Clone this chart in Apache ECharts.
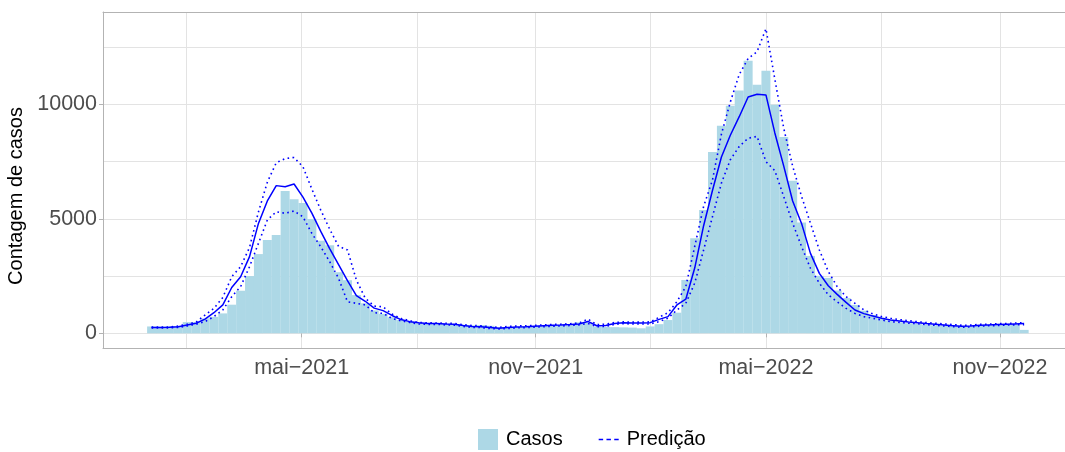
<!DOCTYPE html>
<html>
<head>
<meta charset="utf-8">
<script src="https://cdn.jsdelivr.net/npm/echarts@6/dist/echarts.min.js"></script>
<style>
  html, body { margin: 0; padding: 0; background: #fff; }
  #chart { width: 1065px; height: 452px; }
</style>
</head>
<body>
<div id="chart"></div>
<script>
// semanas epidemiológicas (domingo)
const semanas = [
  '2021-01-03','2021-01-10','2021-01-17','2021-01-24','2021-01-31',
  '2021-02-07','2021-02-14','2021-02-21','2021-02-28',
  '2021-03-07','2021-03-14','2021-03-21','2021-03-28',
  '2021-04-04','2021-04-11','2021-04-18','2021-04-25',
  '2021-05-02','2021-05-09','2021-05-16','2021-05-23','2021-05-30',
  '2021-06-06','2021-06-13','2021-06-20','2021-06-27',
  '2021-07-04','2021-07-11','2021-07-18','2021-07-25',
  '2021-08-01','2021-08-08','2021-08-15','2021-08-22','2021-08-29',
  '2021-09-05','2021-09-12','2021-09-19','2021-09-26',
  '2021-10-03','2021-10-10','2021-10-17','2021-10-24','2021-10-31',
  '2021-11-07','2021-11-14','2021-11-21','2021-11-28',
  '2021-12-05','2021-12-12','2021-12-19','2021-12-26',
  '2022-01-02','2022-01-09','2022-01-16','2022-01-23','2022-01-30',
  '2022-02-06','2022-02-13','2022-02-20','2022-02-27',
  '2022-03-06','2022-03-13','2022-03-20','2022-03-27',
  '2022-04-03','2022-04-10','2022-04-17','2022-04-24',
  '2022-05-01','2022-05-08','2022-05-15','2022-05-22','2022-05-29',
  '2022-06-05','2022-06-12','2022-06-19','2022-06-26',
  '2022-07-03','2022-07-10','2022-07-17','2022-07-24','2022-07-31',
  '2022-08-07','2022-08-14','2022-08-21','2022-08-28',
  '2022-09-04','2022-09-11','2022-09-18','2022-09-25',
  '2022-10-02','2022-10-09','2022-10-16','2022-10-23','2022-10-30',
  '2022-11-06','2022-11-13','2022-11-20'
]

// casos observados (barras)
const casos = [
  300, 290, 300, 310, 490, 490, 650, 720, 870, 1250,
  1860, 2500, 3460, 4070, 4290, 6220, 5860, 5690, 4990, 4040,
  3850, 2670, 2320, 1670, 1310, 1000, 850, 700, 580, 510,
  440, 420, 400, 400, 380, 370, 350, 360, 330, 270,
  250, 270, 300, 320, 330, 330, 340, 350, 480, 470,
  300, 280, 270, 260, 250, 220, 300, 400, 580, 900,
  2330, 4150, 5390, 7920, 9060, 9940, 10600, 11900, 10850, 11470,
  9980, 8570, 6660, 4840, 3380, 2510, 2420, 1870, 1540, 1240,
  990, 800, 680, 560, 480, 440, 410, 380, 350, 330,
  310, 300, 300, 320, 340, 360, 370, 380, 150
]

// predição (linha sólida)
const predicao = [
  250, 250, 260, 290, 360, 440, 620, 900, 1240, 2000,
  2470, 3350, 4800, 5780, 6450, 6400, 6520, 5950, 5250, 4450,
  3700, 3000, 2300, 1650, 1400, 1100, 990, 780, 600, 510,
  460, 430, 430, 410, 400, 340, 300, 290, 250, 220,
  250, 280, 290, 310, 330, 350, 360, 380, 410, 520,
  330, 340, 430, 460, 450, 450, 466, 610, 730, 1240,
  1490, 2850, 4700, 6250, 7700, 8650, 9460, 10320, 10440, 10410,
  8750, 7300, 5780, 4800, 3490, 2620, 2080, 1700, 1350, 1020,
  860, 760, 660, 580, 540, 495, 465, 425, 395, 365,
  335, 305, 320, 350, 365, 380, 395, 410, 425
]

// limites do intervalo (linhas pontilhadas)
const limSup = [
  270, 270, 280, 320, 400, 490, 800, 1090, 1570, 2470,
  2910, 3750, 5300, 6600, 7450, 7630, 7680, 7270, 6300, 5380,
  4550, 3800, 3640, 2330, 1530, 1190, 1160, 840, 650, 550,
  470, 460, 450, 440, 430, 380, 340, 330, 290, 260,
  300, 320, 330, 350, 370, 390, 400, 420, 450, 620,
  380, 400, 470, 500, 490, 490, 500, 700, 900, 1380,
  2040, 3790, 5540, 6700, 8700, 10100, 11300, 12000, 12300, 13300,
  11100, 8950, 7300, 5980, 4810, 3640, 2700, 2040, 1600, 1310,
  1020, 850, 730, 660, 600, 550, 510, 470, 440, 410,
  380, 350, 360, 390, 400, 420, 430, 450, 470
]
const limInf = [
  230, 230, 240, 260, 320, 400, 510, 730, 1020, 1600,
  2040, 2910, 3930, 4950, 5310, 5240, 5340, 5090, 4360, 3780,
  3130, 2400, 1380, 1310, 1240, 900, 870, 650, 550, 470,
  410, 390, 390, 370, 360, 300, 260, 250, 210, 190,
  210, 240, 250, 270, 290, 310, 320, 340, 370, 430,
  290, 300, 390, 420, 410, 410, 410, 510, 660, 1020,
  1310, 2190, 3640, 5100, 6560, 7580, 8160, 8520, 8600, 7500,
  7100, 5970, 4810, 3790, 2840, 2190, 1680, 1380, 1090, 870,
  730, 660, 580, 510, 480, 440, 420, 380, 350, 320,
  290, 260, 280, 310, 330, 340, 360, 370, 380
]

// eixos
const xMajor = ['2021-05-01', '2021-11-01', '2022-05-01', '2022-11-01']
const xLabels = ['mai\u22122021', 'nov\u22122021', 'mai\u22122022', 'nov\u22122022']
const xGrid = ['2021-01-30', '2021-05-01', '2021-07-31', '2021-11-01',
               '2022-01-30', '2022-05-01', '2022-07-31', '2022-11-01']
const yMajor = [0, 5000, 10000]
const yGrid = [0, 2500, 5000, 7500, 10000, 12500]

const fonte = 'Liberation Sans, Arial, Helvetica, sans-serif'
const borda = '#b3b3b3'
const ms = s => Date.parse(s)   // data -> milissegundos (UTC)
const xMin = ms('2020-11-25T19:00:00Z')
const xMax = ms('2022-12-22T03:00:00Z')
const pares = (ys) => semanas.map((d, i) => [ms(d), ys[i]])

let myChart = echarts.init(document.getElementById('chart'), null, { renderer: 'canvas' })
let option = {
  animation: false,
  backgroundColor: '#ffffff',
  textStyle: { fontFamily: fonte },
  grid: {
    left: 103,
    right: 0,
    top: 12,
    bottom: 104,
    containLabel: false,
    outerBoundsMode: 'none'
  },
  legend: {
    left: 478,
    top: 429,
    padding: 0,
    itemWidth: 20,
    itemHeight: 21,
    itemGap: 36,
    textStyle: { fontSize: 20, color: '#000', fontFamily: fonte, padding: [0, 0, 0, 3] },
    data: [
      { name: 'Casos', icon: 'rect', itemStyle: { color: '#add8e6' } },
      {
        name: 'Predição',
        icon: 'path://M0,0h4v1.5h-4z M7,0h4v1.5h-4z M14,0h4v1.5h-4z',
        itemStyle: { color: '#0000ff', borderWidth: 0, opacity: 1 },
        lineStyle: { color: '#0000ff', width: 0 }
      }
    ]
  },
  xAxis: [{
    type: 'value',
    min: xMin,
    max: xMax,
    axisLine: { show: true, onZero: false, lineStyle: { color: borda, width: 1 } },
    axisTick: { show: false, customValues: xGrid.map(ms) },
    splitLine: { show: true, lineStyle: { color: '#e3e3e3', width: 1 } },
    axisLabel: {
      customValues: xMajor.map(ms),
      fontSize: 21.5,
      color: '#4d4d4d',
      fontFamily: fonte,
      margin: 9,
      formatter: function (v) {
        let idx = xMajor.findIndex(s => Math.abs(ms(s) - v) < 864e5)
        return idx >= 0 ? xLabels[idx] : ''
      }
    }
  }, {
    // só as marcas de escala principais
    type: 'value',
    min: xMin,
    max: xMax,
    position: 'bottom',
    axisLine: { show: false },
    axisLabel: { show: false },
    splitLine: { show: false },
    axisTick: { show: true, length: 4, customValues: xMajor.map(ms), lineStyle: { color: borda } }
  }, {
    // borda superior do painel
    type: 'value',
    min: xMin,
    max: xMax,
    position: 'top',
    axisLine: { show: true, onZero: false, lineStyle: { color: borda, width: 1 } },
    axisTick: { show: false },
    axisLabel: { show: false },
    splitLine: { show: false }
  }],
  yAxis: [{
    type: 'value',
    min: -641,
    max: 14032,
    name: 'Contagem de casos',
    nameLocation: 'middle',
    nameRotate: 90,
    nameGap: 61,
    nameTextStyle: { fontSize: 20, color: '#000', fontFamily: fonte, padding: [0, 32, 0, 0] },
    axisLine: { show: true, onZero: false, lineStyle: { color: borda, width: 1 } },
    axisTick: { show: false, customValues: yGrid },
    splitLine: { show: true, lineStyle: { color: '#e3e3e3', width: 1 } },
    axisLabel: {
      customValues: yMajor,
      fontSize: 21.5,
      color: '#4d4d4d',
      fontFamily: fonte,
      margin: 6,
      formatter: v => String(v)
    }
  }, {
    type: 'value',
    min: -641,
    max: 14032,
    position: 'left',
    axisLine: { show: false },
    axisLabel: { show: false },
    splitLine: { show: false },
    axisTick: { show: true, length: 4, customValues: yMajor, lineStyle: { color: borda } }
  }],
  series: [{
    name: 'Casos',
    type: 'bar',
    barWidth: 9,
    itemStyle: { color: '#add8e6' },
    data: pares(casos)
  }, {
    name: 'Predição',
    type: 'line',
    symbol: 'none',
    color: '#0000ff',
    itemStyle: { color: '#0000ff' },
    lineStyle: { color: '#0000ff', width: 1.5 },
    data: pares(predicao)
  }, {
    name: 'Limite superior',
    type: 'line',
    symbol: 'none',
    lineStyle: { color: '#0000ff', width: 1.6, type: [1.6, 3.4] },
    data: pares(limSup)
  }, {
    name: 'Limite inferior',
    type: 'line',
    symbol: 'none',
    lineStyle: { color: '#0000ff', width: 1.6, type: [1.6, 3.4] },
    data: pares(limInf)
  }]
}
myChart.setOption(option)
</script>
</body>
</html>
